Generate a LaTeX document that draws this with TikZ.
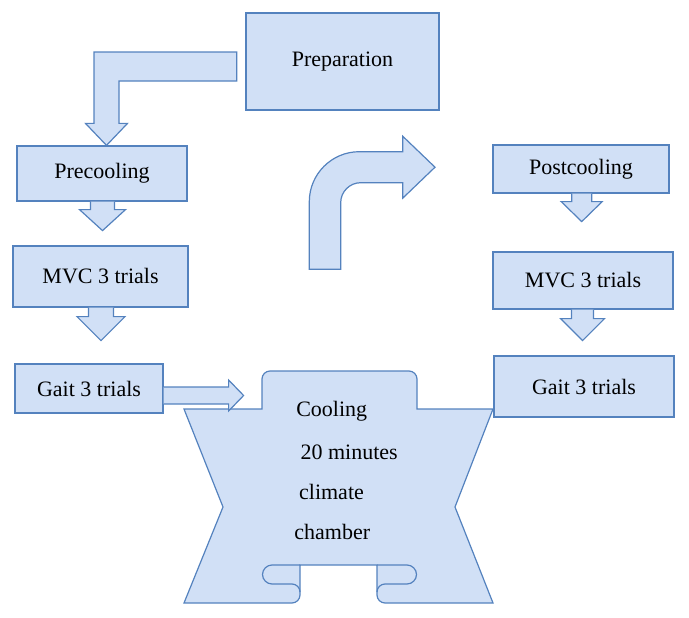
\documentclass[tikz,border=0pt]{standalone}
\usepackage{fontspec}
\setmainfont{Liberation Serif}
\usetikzlibrary{calc}

\definecolor{flowfill}{RGB}{209,224,246}
\definecolor{flowline}{RGB}{84,130,190}

\begin{document}
\begin{tikzpicture}[x=1pt, y=-1pt,
  font=\fontsize{22}{26}\selectfont,
  box/.style={draw=flowline, fill=flowfill, line width=1.2pt, inner sep=0pt},
  blk/.style={draw=flowline, fill=flowfill, line width=1.2pt, line join=miter},
  txt/.style={inner sep=0pt}]

\useasboundingbox (0,0) rectangle (689,618);

% boxes
\node[box, minimum width=193pt, minimum height=97pt] (prep)  at (342.5,61.5) {Preparation};
\node[box, minimum width=170pt, minimum height=55pt] (pre)   at (102,173.5)  {Precooling};
\node[box, minimum width=175pt, minimum height=61pt] (mvcl)  at (100.5,276.5) {MVC 3 trials};
\node[box, minimum width=148pt, minimum height=49pt] (gaitl) at (89,388.5)   {Gait 3 trials};
\node[box, minimum width=176pt, minimum height=48pt] (post)  at (581,169)    {Postcooling};
\node[box, minimum width=180pt, minimum height=57pt] (mvcr)  at (583,280.5)  {MVC 3 trials};
\node[box, minimum width=180pt, minimum height=61pt] (gaitr) at (584,386.5)  {Gait 3 trials};

% block arrows downwards
\foreach \b/\dx/\hs/\hh/\wy/\ty in {pre/0.5/12/23/8/29, mvcl/0.5/12.5/24/9/33,
                                   post/0.7/10/20.5/8/28, mvcr/-0.5/11/22/9/31}
  \draw[blk, shift={(\b.south)}] ({\dx-\hs},0) -- ({\dx-\hs},\wy) -- ({\dx-\hh},\wy)
    -- (\dx,\ty) -- ({\dx+\hh},\wy) -- ({\dx+\hs},\wy) -- ({\dx+\hs},0);

% bent arrow from preparation
\draw[blk, shift={($(pre.north)+(4.5,0)$)}] (130.2,-93.3) -- (-12.5,-93.3) -- (-12.5,-22)
  -- (-21,-22) -- (0,0) -- (21,-22) -- (12.5,-22) -- (12.5,-64.3) -- (130.2,-64.3) -- cycle;

% turning arrow in the middle
\draw[blk] (309.3,269.3) -- (309.3,201.7) .. controls (309.3,174.1) and (331.7,151.7) .. (359.3,151.7)
  -- (402.7,151.7) -- (402.7,136.2) -- (435,167.2) -- (402.7,198.2) -- (402.7,182.7)
  -- (360.7,182.7) .. controls (349.7,182.7) and (340.7,191.7) .. (340.7,202.7)
  -- (340.7,269.3) -- cycle;

% cooling chamber
\draw[blk] (262,409) -- (262,379) .. controls (262,374.6) and (265.6,371) .. (270,371)
  -- (409,371) .. controls (413.4,371) and (417,374.6) .. (417,379)
  -- (417,409) -- (493,409) -- (455,507) -- (493,603) -- (385,603)
  .. controls (380.6,603) and (377,599.4) .. (377,595) -- (377,565) -- (300,565) -- (300,595)
  .. controls (300,599.4) and (296.4,603) .. (292,603) -- (184,603) -- (223,507) -- (184,409) -- cycle;
\draw[blk, fill=none] (300,565) -- (272,565) .. controls (266.8,565) and (262.5,569.3) .. (262.5,574.5)
  .. controls (262.5,579.7) and (266.8,584) .. (272,584) -- (292,584)
  .. controls (296.4,584) and (300,587.6) .. (300,592);
\draw[blk, fill=none] (377,565) -- (407,565) .. controls (412.2,565) and (416.5,569.3) .. (416.5,574.5)
  .. controls (416.5,579.7) and (412.2,584) .. (407,584) -- (385,584)
  .. controls (380.6,584) and (377,587.6) .. (377,592);

\node[txt] (cool)    at (331.7,411) {Cooling};
\node[txt] (minutes) at (349.2,452) {20 minutes};
\node[txt] (climate) at (331.5,492) {climate};
\node[txt] (chamber) at (332.3,532) {chamber};

% gait into cooling
\draw[blk, shift={(gaitl.east)}] (0,-1.5) -- (65,-1.5) -- (65,-8.5) -- (80,7)
  -- (65,22.5) -- (65,15.5) -- (0,15.5);
\end{tikzpicture}
\end{document}
